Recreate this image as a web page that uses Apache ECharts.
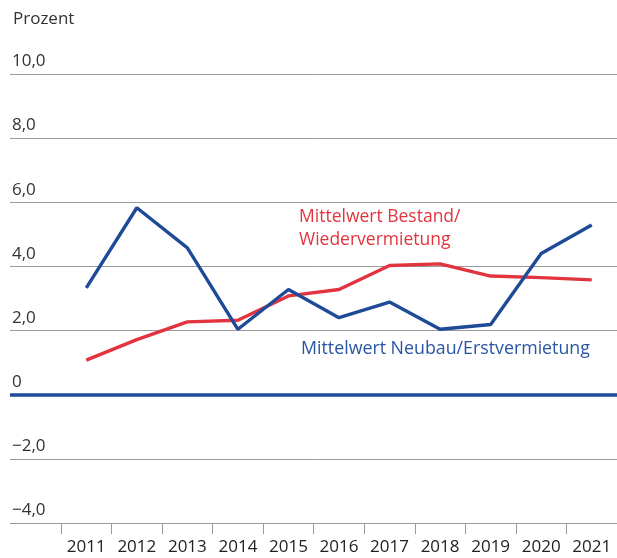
<!DOCTYPE html>
<html>
<head>
<meta charset="utf-8">
<script src="https://cdn.jsdelivr.net/npm/echarts@6/dist/echarts.min.js"></script>
<style>html,body{margin:0;padding:0;background:#fff}#c{width:617px;height:558px}</style>
</head>
<body>
<div id="c"></div>
<script>
const years = ['2011','2012','2013','2014','2015','2016','2017','2018','2019','2020','2021'];
const neubau = [3.33, 5.83, 4.58, 2.04, 3.28, 2.40, 2.89, 2.04, 2.19, 4.40, 5.29];
const bestand = [1.08, 1.72, 2.27, 2.32, 3.08, 3.28, 4.03, 4.08, 3.70, 3.65, 3.58];
const yTickLabels = {'-4':'−4,0','-2':'−2,0','0':'0','2':'2,0','4':'4,0','6':'6,0','8':'8,0','10':'10,0'};
const labelBestand = 'Mittelwert Bestand/\nWiedervermietung';
const labelNeubau = 'Mittelwert Neubau/Erstvermietung';

const BLUE = '#1f4a97';
const RED = '#e2343f';
const FONT = '"Open Sans", "Noto Sans", sans-serif';

const chart = echarts.init(document.getElementById('c'));
chart.setOption({
  animation: false,
  textStyle: {fontFamily: FONT},
  grid: [
    {left: 61, right: -2, top: 74, bottom: 35},
    {left: 10, right: 0, top: 74, bottom: 35}
  ],
  xAxis: [
    {gridIndex: 0, type: 'category', data: years, boundaryGap: true,
     axisLine: {show: true, onZero: false, lineStyle: {color: '#999', width: 1}},
     axisTick: {show: true, length: 11, lineStyle: {color: '#999'}},
     axisLabel: {color: '#222', fontSize: 17, margin: 16, fontFamily: FONT}},
    {gridIndex: 1, type: 'value', min: 0, max: 1, show: false}
  ],
  yAxis: [
    {gridIndex: 0, type: 'value', min: -4, max: 10, interval: 2, show: false},
    {gridIndex: 1, type: 'value', min: -4, max: 10, interval: 2,
     axisLine: {show: false}, axisTick: {show: false},
     splitLine: {show: true, lineStyle: {color: '#9a9a9a', width: 1}},
     axisLabel: {inside: true, margin: 2, verticalAlign: 'bottom', padding: [0,0,4,0],
       color: '#333', fontSize: 17, fontFamily: FONT,
       formatter: v => yTickLabels[String(v)]}}
  ],
  title: {text: 'Prozent', left: 8, top: 6,
    textStyle: {fontSize: 17, fontWeight: 'normal', color: '#333', fontFamily: FONT}},
  graphic: [
    {type: 'text', left: 299, top: 206, style: {text: labelBestand, fill: RED, font: '17.5px ' + FONT, lineHeight: 23}},
    {type: 'text', left: 301, top: 340, style: {text: labelNeubau, fill: '#2a55a3', font: '17.8px ' + FONT}}
  ],
  series: [
    {type: 'line', xAxisIndex: 1, yAxisIndex: 1, data: [], silent: true,
     markLine: {silent: true, symbol: 'none', label: {show: false},
       lineStyle: {color: BLUE, width: 3.5, type: 'solid'}, data: [{yAxis: 0}]}},
    {name: 'Bestand', type: 'line', xAxisIndex: 0, yAxisIndex: 0, data: bestand,
     symbol: 'none', lineStyle: {color: RED, width: 3.4}, itemStyle: {color: RED}},
    {name: 'Neubau', type: 'line', xAxisIndex: 0, yAxisIndex: 0, data: neubau,
     symbol: 'none', lineStyle: {color: BLUE, width: 3.4}, itemStyle: {color: BLUE}}
  ]
});
</script>
</body>
</html>
